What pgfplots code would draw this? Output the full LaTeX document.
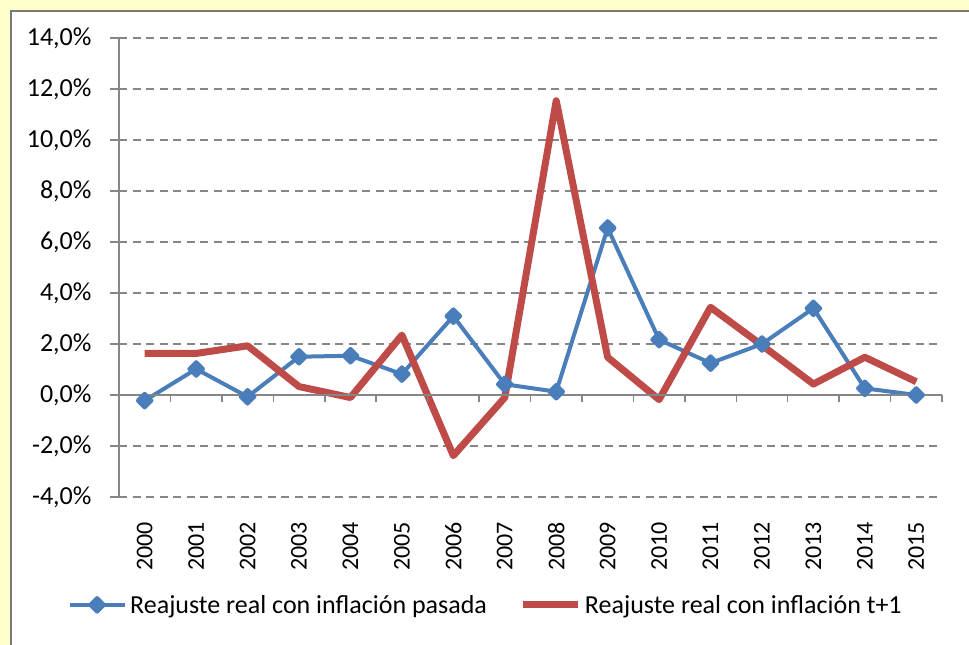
\documentclass[border=0pt]{standalone}
\usepackage{fontspec}
\setmainfont{Carlito}
\usepackage{pgfplots}
\pgfplotsset{compat=1.18}
\definecolor{bgyellow}{HTML}{FFFFCC}
\definecolor{axgray}{HTML}{868686}
\definecolor{xlblue}{HTML}{4A7EBB}
\definecolor{xlred}{HTML}{BE4B48}
\begin{document}
\begin{tikzpicture}
\useasboundingbox[fill=bgyellow] (0bp,0bp) rectangle (969bp,645bp);
\fill[white] (11bp,0bp) rectangle (969bp,634bp);
\draw[color=axgray!90!black, line width=2bp] (11bp,0bp) -- (11bp,634bp) -- (969bp,634bp);
\begin{axis}[
  at={(119bp,148bp)}, anchor=south west,
  width=823bp, height=459bp, scale only axis,
  xmin=-0.5, xmax=15.5, ymin=-4, ymax=14,
  axis x line=bottom, axis y line=left,
  axis line style={-, color=axgray, line width=1.5bp},
  x axis line style={draw=none},
  xtick={0,...,15},
  xticklabels={2000,2001,2002,2003,2004,2005,2006,2007,2008,2009,2010,2011,2012,2013,2014,2015},
  xtick style={draw=none},
  ytick={-4,-2,...,14},
  ytick style={color=axgray, line width=1.5bp},
  tick align=outside,
  major tick length=9bp,
  ymajorgrids,
  grid style={color=axgray, line width=1.5bp, dash pattern=on 8bp off 5.5bp},
  /pgf/number format/assume math mode=true,
  yticklabel={\pgfmathprintnumber[fixed,fixed zerofill,precision=1,use comma]{\tick}\%},
  yticklabel style={anchor=east, xshift=-15bp, font=\fontsize{26bp}{30bp}\selectfont},
  xticklabel style={rotate=90, anchor=east, inner xsep=16bp, font=\fontsize{24bp}{28bp}\selectfont},
  legend columns=2,
  legend style={at={(rel axis cs:-0.062,-0.235)}, anchor=west, draw=none, fill=none,
    inner sep=0pt, font=\fontsize{26bp}{30bp}\selectfont,
    /tikz/every even column/.append style={column sep=30bp},
    nodes={inner xsep=3bp}},
  legend image code/.code={\draw[mark repeat=2,mark phase=2,#1] plot coordinates {(0bp,0bp) (27bp,0bp) (55bp,0bp)};},
  clip=false,
]
\addplot[color=xlblue, line width=4bp, line join=round, mark=square*, mark size=4.8bp, mark options={solid, rotate=45}]
  coordinates {(0,-0.22) (1,1.02) (2,-0.07) (3,1.50) (4,1.54) (5,0.82) (6,3.09) (7,0.42)
               (8,0.13) (9,6.55) (10,2.17) (11,1.25) (12,2.00) (13,3.40) (14,0.26) (15,0.00)};
\addlegendentry{Reajuste real con inflación pasada}
\addplot[color=xlred, line width=7bp, line join=round, mark=none]
  coordinates {(0,1.63) (1,1.63) (2,1.93) (3,0.33) (4,-0.10) (5,2.35) (6,-2.38) (7,-0.10)
               (8,11.54) (9,1.48) (10,-0.18) (11,3.44) (12,1.95) (13,0.43) (14,1.48) (15,0.52)};
\addlegendentry{Reajuste real con inflación t+1}
\addplot[color=axgray, line width=1.5bp, forget plot] coordinates {(-0.5,0) (15.5,0)};
\pgfplotsinvokeforeach{0,...,15}{\draw[color=axgray, line width=1.5bp] (axis cs:#1.5,0) -- ++(0bp,-7bp);}
\end{axis}
\end{tikzpicture}
\end{document}
